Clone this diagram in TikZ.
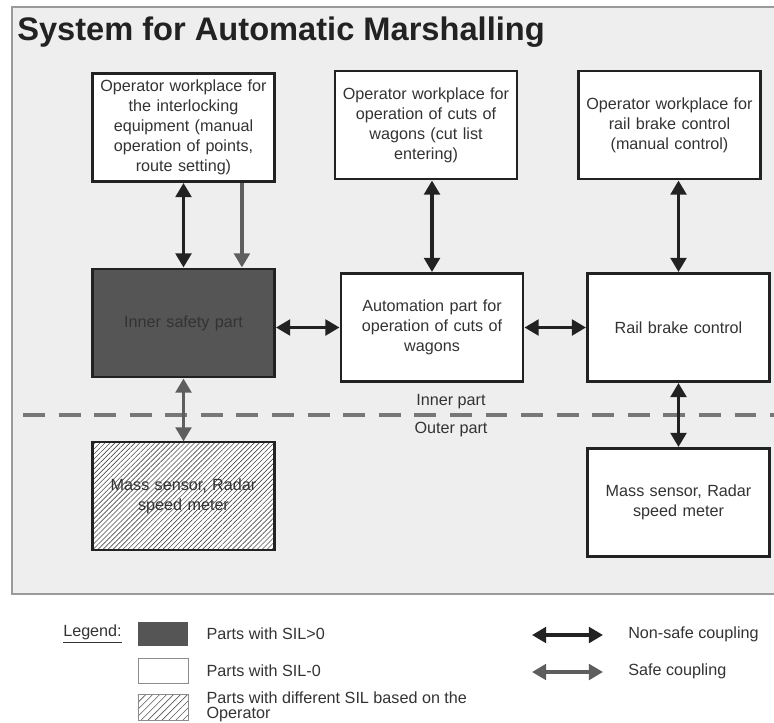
\documentclass[tikz,border=0pt]{standalone}
\usepackage{fontspec}
\setmainfont{Liberation Sans}
\usetikzlibrary{positioning,arrows.meta,patterns.meta}

\definecolor{panel}{HTML}{EEEEEE}
\definecolor{panelline}{HTML}{9A9A9A}
\definecolor{silgray}{HTML}{555555}
\definecolor{safegray}{HTML}{5E5E5E}
\definecolor{ink}{HTML}{222222}
\definecolor{dashgray}{HTML}{777777}

\tikzset{
unit/.style={draw=ink, line width=1.8pt, fill=white, minimum width=4.56cm, minimum height=2.71cm,
  text width=4.4cm, align=center, text=black!80, font=\fontsize{11.5}{14.2}\selectfont, inner sep=0pt},
silunit/.style={unit, fill=silgray},
mixunit/.style={unit, preaction={fill=white}, pattern={Lines[angle=45,distance=2.5pt,line width=0.45pt]}, pattern color=black!70},
nonsafe/.style={draw=ink, line width=2.5pt, {Triangle[width=11pt,length=10pt]}-{Triangle[width=11pt,length=10pt]}},
safe/.style={nonsafe, draw=safegray},
caption/.style={text=black!80, font=\fontsize{11.5}{14.2}\selectfont, inner sep=0pt},
}

\begin{document}
\begin{tikzpicture}[x=0.025cm, y=-0.025cm]
\clip (0,0) rectangle (774,722);
\draw[panelline, line width=1pt, fill=panel] (12,7) rectangle (800,594);
\node[anchor=base west, inner sep=0pt, text=ink, font=\fontsize{23.2}{28}\selectfont\bfseries] (title) at (17,41) {System for Automatic Marshalling};

\node[unit] (opil) at (183.5,127.5) {Operator workplace for\\the interlocking\\equipment (manual\\operation of points,\\route setting)};
\node[unit] (opcut) at (426,125) {Operator workplace for\\operation of cuts of\\wagons (cut list\\entering)};
\node[unit] (opbrake) at (669.5,125) {Operator workplace for\\rail brake control\\(manual control)};

\node[silunit] (safety) at (183.5,323) {Inner safety part};
\node[unit] (auto) at (432,327.5) {Automation part for\\operation of cuts of\\wagons};
\node[unit] (brake) at (678.5,327.5) {Rail brake control};

\node[mixunit] (sensl) at (183.5,496) {Mass sensor, Radar\\speed meter};
\node[unit] (sensr) at (678.5,502.5) {Mass sensor, Radar\\speed meter};

\draw[dashgray, line width=2.5pt, dash pattern=on 15.6pt off 9.7pt] (23,415) -- (774,415);
\node[caption] (inner) at (451,402) {Inner part};
\node[caption] (outer) at (451,430) {Outer part};

\draw[nonsafe] (opil) -- (safety);
\draw[safe, -{Triangle[width=11pt,length=10pt]}] ([xshift=1.46cm]opil.south) -- ([xshift=1.46cm]opil.south |- safety.north);
\draw[nonsafe] (auto.north) -- (auto.north |- opcut.south);
\draw[nonsafe] (brake.north) -- (brake.north |- opbrake.south);
\draw[nonsafe] (auto.west) -- (auto.west -| safety.east);
\draw[nonsafe] (auto) -- (brake);
\draw[safe] (safety) -- (sensl);
\draw[nonsafe] (brake) -- (sensr);

\node[caption] (legend) at (92.5,634) {\underline{Legend:}};
\node[fill=silgray, minimum width=1.25cm, minimum height=0.6cm, inner sep=0pt] (keysil) at (163,634) {};
\node[draw=black!45, line width=0.5pt, fill=white, minimum width=1.25cm, minimum height=0.62cm, inner sep=0pt] (keyzero) at (163,670.5) {};
\node[draw=black!45, line width=0.4pt, preaction={fill=white}, pattern={Lines[angle=45,distance=3.5pt,line width=0.45pt]}, pattern color=black!65,
  minimum width=1.25cm, minimum height=0.65cm, inner sep=0pt] (keymix) at (163,707) {};
\node[caption, anchor=west, right=0.45cm of keysil] (txtsil) {Parts with SIL>0};
\node[caption, anchor=west, right=0.45cm of keyzero] (txtzero) {Parts with SIL-0};
\node[caption, anchor=west, align=left, font=\fontsize{11.5}{10.7}\selectfont, right=0.45cm of keymix] (txtmix) {Parts with different SIL based on the\\Operator};

\coordinate (ns1) at (532,635);
\coordinate (ns2) at (603,635);
\coordinate (sf1) at (532,672);
\coordinate (sf2) at (603,672);
\draw[nonsafe] (ns1) -- (ns2);
\draw[safe] (sf1) -- (sf2);
\node[caption, anchor=west] (txtns) at (628,634) {Non-safe coupling};
\node[caption, anchor=west] (txtsf) at (628,671) {Safe coupling};
\end{tikzpicture}
\end{document}
